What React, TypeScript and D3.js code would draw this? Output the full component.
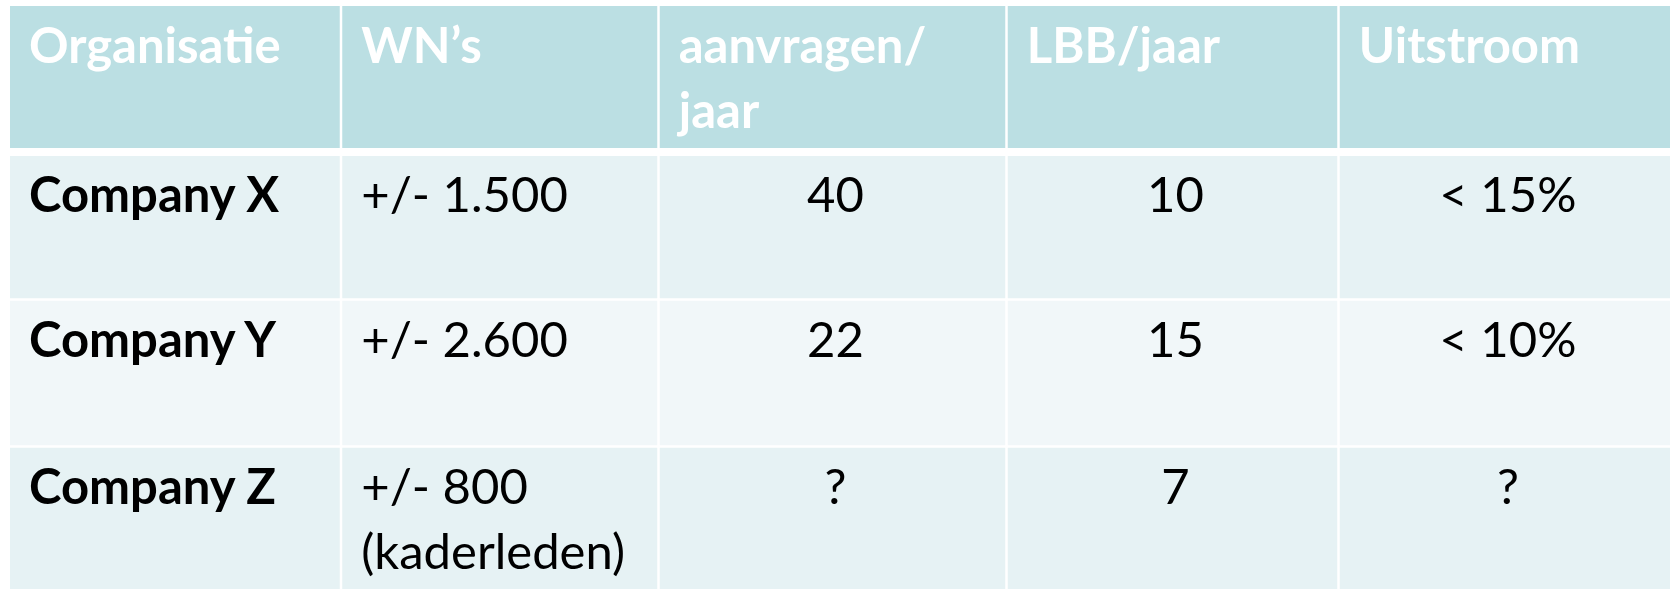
import React from "react";
import * as d3 from "d3";

// table content
const headers = ["Organisatie", "WN’s", "aanvragen/\njaar", "LBB/jaar", "Uitstroom"];
const organisations = ["Company X", "Company Y", "Company Z"];
const employees = ["+/- 1.500", "+/- 2.600", "+/- 800\n(kaderleden)"];
const requestsPerYear = ["40", "22", "?"];
const lbbPerYear = ["10", "15", "7"];
const outflow = ["< 15%", "< 10%", "?"];

const width = 1677;
const height = 589;

// layout of the grid (cell edges)
const colEdges = [10, 341, 658.5, 1006.5, 1338.5, 1670];
const rowEdges = [6, 152, 299.5, 446.5, 589];
const headerGap = 8;
const gap = 2.5;
const lineHeight = 65;
const fontFamily = "Lato, 'Open Sans', sans-serif";
const fontSize = 49;

const App = () => {
  const columns = [organisations, employees, requestsPerYear, lbbPerYear, outflow];
  const rows = organisations.map((_, i) => columns.map((c) => c[i]));

  const x = d3.scaleOrdinal<number, number>().domain(d3.range(5)).range(colEdges.slice(0, 5));
  const y = d3.scaleOrdinal<number, number>().domain(d3.range(4)).range(rowEdges.slice(0, 4));
  const fills = ["#BBDFE3", "#E6F2F4", "#F1F7F9", "#E6F2F4"];

  const cellBox = (r: number, c: number) => {
    const left = c === 0 ? x(c) : x(c) + gap / 2;
    const right = c === 4 ? colEdges[5] : colEdges[c + 1] - gap / 2;
    let top = y(r);
    let bottom = rowEdges[r + 1];
    if (r === 0) bottom -= headerGap / 2;
    if (r === 1) top += headerGap / 2;
    if (r > 1) top += gap / 2;
    if (r > 0 && r < 3) bottom -= gap / 2;
    return { left, right, top, bottom };
  };

  const renderText = (txt: string, r: number, c: number, bold: boolean, color: string) => {
    const b = cellBox(r, c);
    const centered = r > 0 && c >= 2;
    const tx = centered ? (b.left + b.right) / 2 + 3 : b.left + 19;
    const baseY = r === 0 ? 63 : b.top + 56;
    return (
      <text
        key={`t${r}-${c}`}
        x={tx}
        y={baseY}
        fill={color}
        fontFamily={fontFamily}
        fontSize={fontSize}
        fontWeight={bold ? 700 : 400}
        textAnchor={centered ? "middle" : "start"}
      >
        {txt.split("\n").map((line, k) => (
          <tspan key={k} x={tx} y={baseY + k * lineHeight}>
            {line}
          </tspan>
        ))}
      </text>
    );
  };

  return (
    <svg
      width={width}
      height={height}
      style={{ position: "absolute", left: 0, top: 0, background: "#FFFFFF" }}
    >
      {d3.range(4).map((r) =>
        d3.range(5).map((c) => {
          const b = cellBox(r, c);
          return (
            <rect
              key={`c${r}-${c}`}
              x={b.left}
              y={b.top}
              width={b.right - b.left}
              height={b.bottom - b.top}
              fill={fills[r]}
            />
          );
        })
      )}
      {headers.map((h, c) => renderText(h, 0, c, true, "#FFFFFF"))}
      {rows.map((row, i) =>
        row.map((v, c) => renderText(v, i + 1, c, c === 0, "#000000"))
      )}
    </svg>
  );
};

export default App;
